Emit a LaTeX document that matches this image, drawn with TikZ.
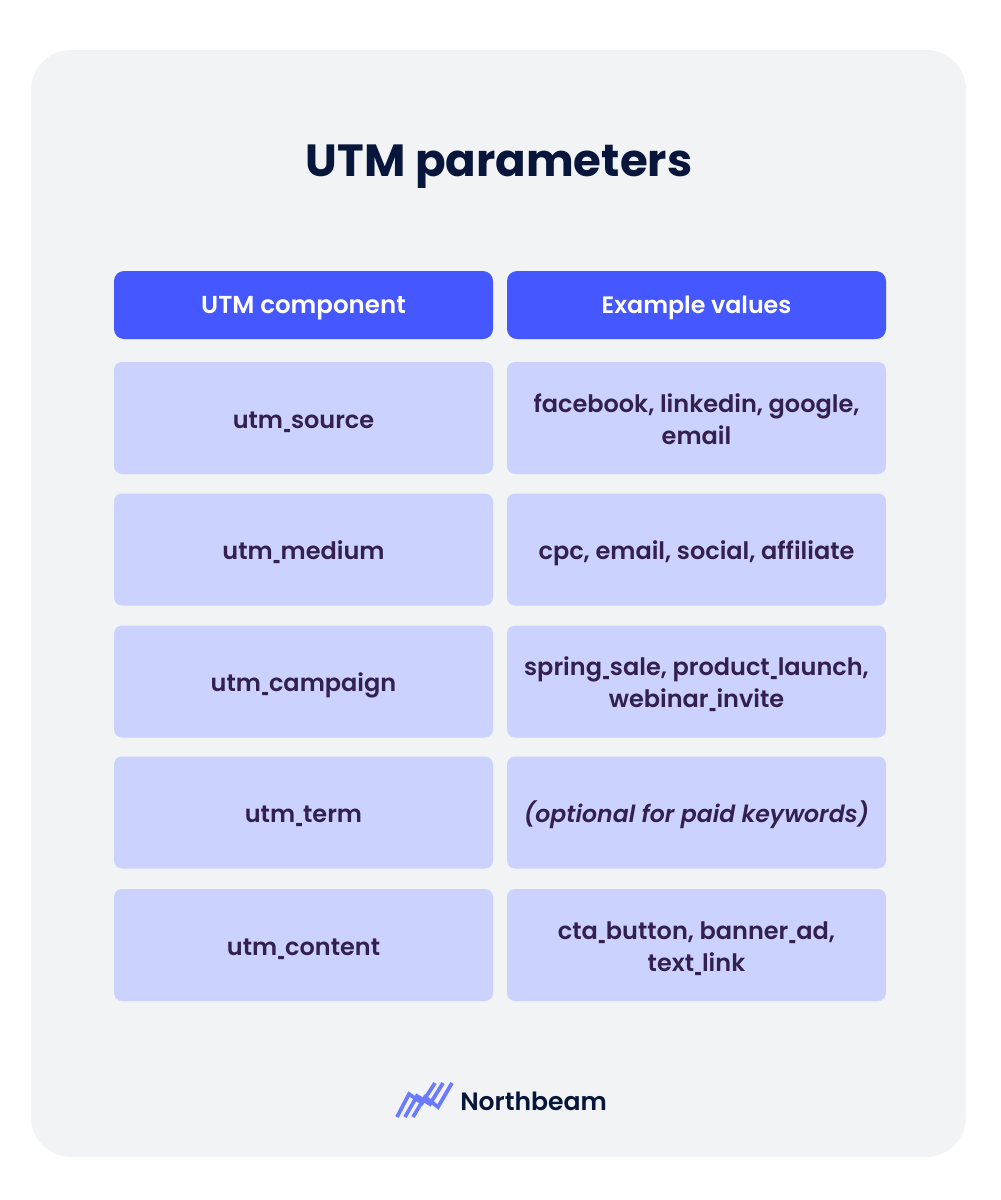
\documentclass[tikz,border=0pt]{standalone}
\usepackage{fontspec}
\setmainfont{Poppins}[BoldFont={Poppins SemiBold},ItalicFont={Poppins Italic},BoldItalicFont={Poppins SemiBold Italic}]
\newfontfamily\titlefont{Poppins}[BoldFont={Poppins Bold}]
\definecolor{panel}{HTML}{F1F3F5}
\definecolor{headblue}{HTML}{4558FF}
\definecolor{rowblue}{HTML}{CCD2FE}
\definecolor{rowtext}{HTML}{33204F}
\definecolor{navy}{HTML}{07163A}
\definecolor{logoblue}{HTML}{6B7BFF}
\newcommand{\usc}{\scalebox{0.42}[1]{\_}}
\newcommand{\celltext}[1]{\raisebox{-3pt}[\height][\depth]{\begin{tabular}{@{}c@{}}#1\end{tabular}}}
\newcommand{\headtext}[1]{\raisebox{-2.25pt}[\height][\depth]{#1}}
\tikzset{
 x=0.75pt,y=-0.75pt,
 head/.style={fill=headblue,rounded corners=7.5pt,minimum width=284.25pt,minimum height=51pt,text=white,font=\fontsize{18.4}{22}\selectfont\bfseries,inner sep=0pt},
 cell/.style={fill=rowblue,rounded corners=6pt,minimum width=284.25pt,minimum height=84pt,text=rowtext,font=\fontsize{18}{24}\selectfont\bfseries,align=center,inner sep=0pt},
 logoline/.style={draw=logoblue,line width=2.8pt,line join=miter}
}
\begin{document}
\begin{tikzpicture}
\useasboundingbox (0,0) rectangle (1000,1200);
\fill[white] (0,0) rectangle (1000,1200);
\fill[panel,rounded corners=30pt] (31,50) rectangle (966,1157);
\node[text=navy,font=\fontsize{33.8}{40}\selectfont\titlefont\bfseries,inner sep=0pt] (title) at (499,167) {UTM parameters};
\node[head] (h1) at (303.5,305) {\headtext{UTM component}};
\node[head,font=\fontsize{17.8}{22}\selectfont\bfseries] (h2) at (696.5,305) {\headtext{Example values}};
\node[cell] (a1) at (303.5,418) {\celltext{utm\usc source}};
\node[cell] (b1) at (696.5,418) {\celltext{facebook, linkedin, google,\\email}};
\node[cell] (a2) at (303.5,549.5) {\celltext{utm\usc medium}};
\node[cell] (b2) at (696.5,549.5) {\celltext{cpc, email, social, affiliate}};
\node[cell] (a3) at (303.5,681.5) {\celltext{utm\usc campaign}};
\node[cell] (b3) at (696.5,681.5) {\celltext{spring\usc sale, product\usc launch,\\webinar\usc invite}};
\node[cell] (a4) at (303.5,812.5) {\celltext{utm\usc term}};
\node[cell] (b4) at (696.5,812.5) {\celltext{\fontsize{17.7}{24}\selectfont\itshape (optional for paid keywords)}};
\node[cell] (a5) at (303.5,945) {\celltext{utm\usc content}};
\node[cell] (b5) at (696.5,945) {\celltext{cta\usc button, banner\usc ad,\\text\usc link}};
\draw[logoline] (397,1117) -- (409,1094) -- (422,1103) -- (435,1083);
\draw[logoline] (405,1117) -- (417,1096) -- (430,1104) -- (443,1083);
\draw[logoline] (413,1117) -- (425,1097) -- (438,1107) -- (452,1083);
\node[anchor=west,text=navy,font=\fontsize{18.8}{24}\selectfont\bfseries,inner sep=0pt] (logo) at (460,1101) {Northbeam};
\end{tikzpicture}
\end{document}
